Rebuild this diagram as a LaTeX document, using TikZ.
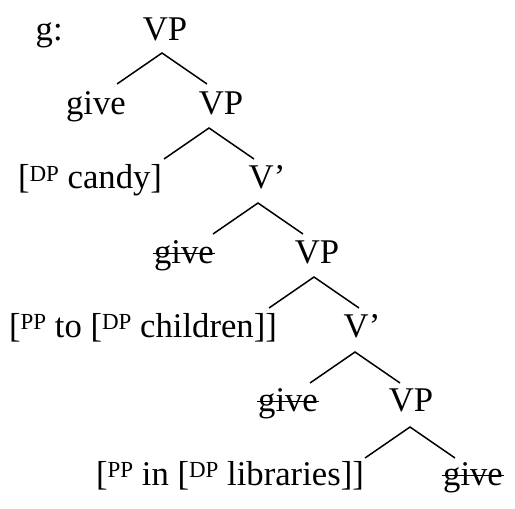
\documentclass[tikz,border=0pt]{standalone}
\usepackage{fontspec}
\setmainfont{Liberation Serif}
\usetikzlibrary{positioning}

\newcommand{\gone}[1]{\setbox0\hbox{#1}\rlap{\kern-0.03em\rule[0.25em]{\dimexpr\wd0+0.06em\relax}{0.045em}}\box0}
\newcommand{\cat}[1]{\raisebox{0.22em}{\fontsize{6.9}{8}\selectfont #1}}

\tikzset{
  lbl/.style={anchor=base, inner sep=0pt, font=\fontsize{10.4}{12}\selectfont},
  edge/.style={line width=0.45pt}
}

\begin{document}
\begin{tikzpicture}[x=0.3pt,y=-0.3pt]
    \useasboundingbox (0,0) rectangle (515,508);

    % Labels
    \node[lbl, anchor=base west] (g) at (35,41) {g:};
    \node[lbl] (vp0) at (165,41) {VP};
    \node[lbl] (give1) at (96,115) {give};
    \node[lbl] (vp1) at (221,115) {VP};
    \node[lbl] (dp1) at (90,189) {[\cat{DP} candy]};
    \node[lbl] (vb1) at (267,189) {V’};
    \node[lbl] (give2) at (184,263) {\gone{give}};
    \node[lbl] (vp3) at (317,263) {VP};
    \node[lbl] (pp1) at (143,337) {[\cat{PP} to [\cat{DP} children]]};
    \node[lbl] (vb2) at (362,337) {V’};
    \node[lbl] (give3) at (288,411) {\gone{give}};
    \node[lbl] (vp5) at (411,411) {VP};
    \node[lbl] (pp2) at (230,485) {[\cat{PP} in [\cat{DP} libraries]]};
    \node[lbl] (give4) at (473,485) {\gone{give}};

    % Branches
    \coordinate (vp0-top) at (162,53);
    \coordinate (vp1-top) at (209,128);
    \coordinate (vb1-top) at (258,203);
    \coordinate (vp3-top) at (314,277);
    \coordinate (vb2-top) at (355,352);
    \coordinate (vp5-top) at (410,427);
    \foreach \t in {vp0-top,vp1-top,vb1-top,vp3-top,vb2-top,vp5-top}
        \draw[edge] (\t) +(-45,31) -- +(0,0) -- +(45,31);
\end{tikzpicture}
\end{document}
